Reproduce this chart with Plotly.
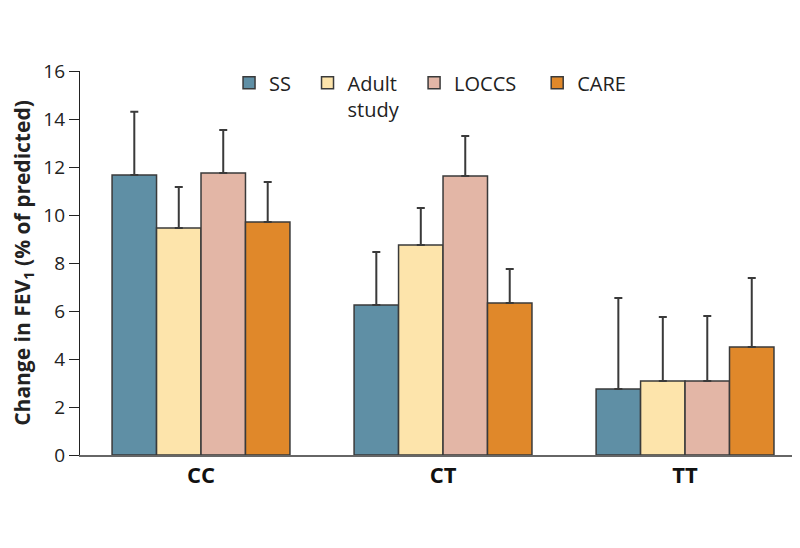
import plotly.graph_objects as go

genotypes = ['CC', 'CT', 'TT']
studies = ['SS', 'Adult<br>study', 'LOCCS', 'CARE']

ss = [11.67, 6.25, 2.75]
adult = [9.46, 8.75, 3.08]
loccs = [11.75, 11.63, 3.08]
care = [9.71, 6.33, 4.5]

ss_err = [2.63, 2.21, 3.79]
adult_err = [1.71, 1.54, 2.67]
loccs_err = [1.79, 1.66, 2.71]
care_err = [1.67, 1.42, 2.88]

values = [ss, adult, loccs, care]
errors = [ss_err, adult_err, loccs_err, care_err]
colors = ['#5f8fa5', '#fde4ab', '#e3b6a6', '#e0882a']

font_family = '"Open Sans", sans-serif'

# one small legend per study, so the entries sit where the original has them
legend_ids = ['legend', 'legend2', 'legend3', 'legend4']
legend_x = [0.207, 0.316, 0.464, 0.635]

fig = go.Figure()
for name, vals, errs, col, leg in zip(studies, values, errors, colors, legend_ids):
    fig.add_trace(go.Bar(
        x=genotypes,
        y=vals,
        name=name,
        legend=leg,
        showlegend=True,
        marker=dict(color=col, line=dict(color='#3a3a3a', width=1.5)),
        error_y=dict(type='data', symmetric=False, array=errs, arrayminus=[0] * len(errs),
                     color='#3a3a3a', thickness=2, width=4),
    ))

# the page body adds 8px on the left and top, margins compensate for it
fig.update_layout(
    width=800,
    height=548,
    showlegend=True,
    barmode='group',
    bargap=0.265,
    bargroupgap=0,
    plot_bgcolor='white',
    paper_bgcolor='white',
    font=dict(family=font_family, size=16, color='#222'),
    margin=dict(l=72, r=8, t=63, b=101),
)
for leg, lx in zip(legend_ids, legend_x):
    fig.update_layout({leg: dict(
        orientation='h',
        x=lx,
        y=1.02,
        xanchor='left',
        yanchor='top',
        font=dict(size=20),
        itemwidth=30,
        valign='top',
        bgcolor='rgba(0,0,0,0)',
    )})

fig.update_xaxes(
    range=[-0.5, 2.475],
    showline=True,
    linecolor='#666',
    linewidth=2,
    ticks='',
    tickfont=dict(size=22, family=font_family, weight='bold', color='#111'),
)
fig.update_yaxes(
    range=[0, 16],
    tick0=0,
    dtick=2,
    showgrid=False,
    zeroline=False,
    showline=True,
    linecolor='#222',
    linewidth=1.2,
    ticks='outside',
    ticklen=10,
    tickcolor='#222',
    tickfont=dict(size=19),
    title=dict(text='<b>Change in FEV<sub>1</sub> (% of predicted)</b>', font=dict(size=21), standoff=12),
)

fig.write_html('out.html')
